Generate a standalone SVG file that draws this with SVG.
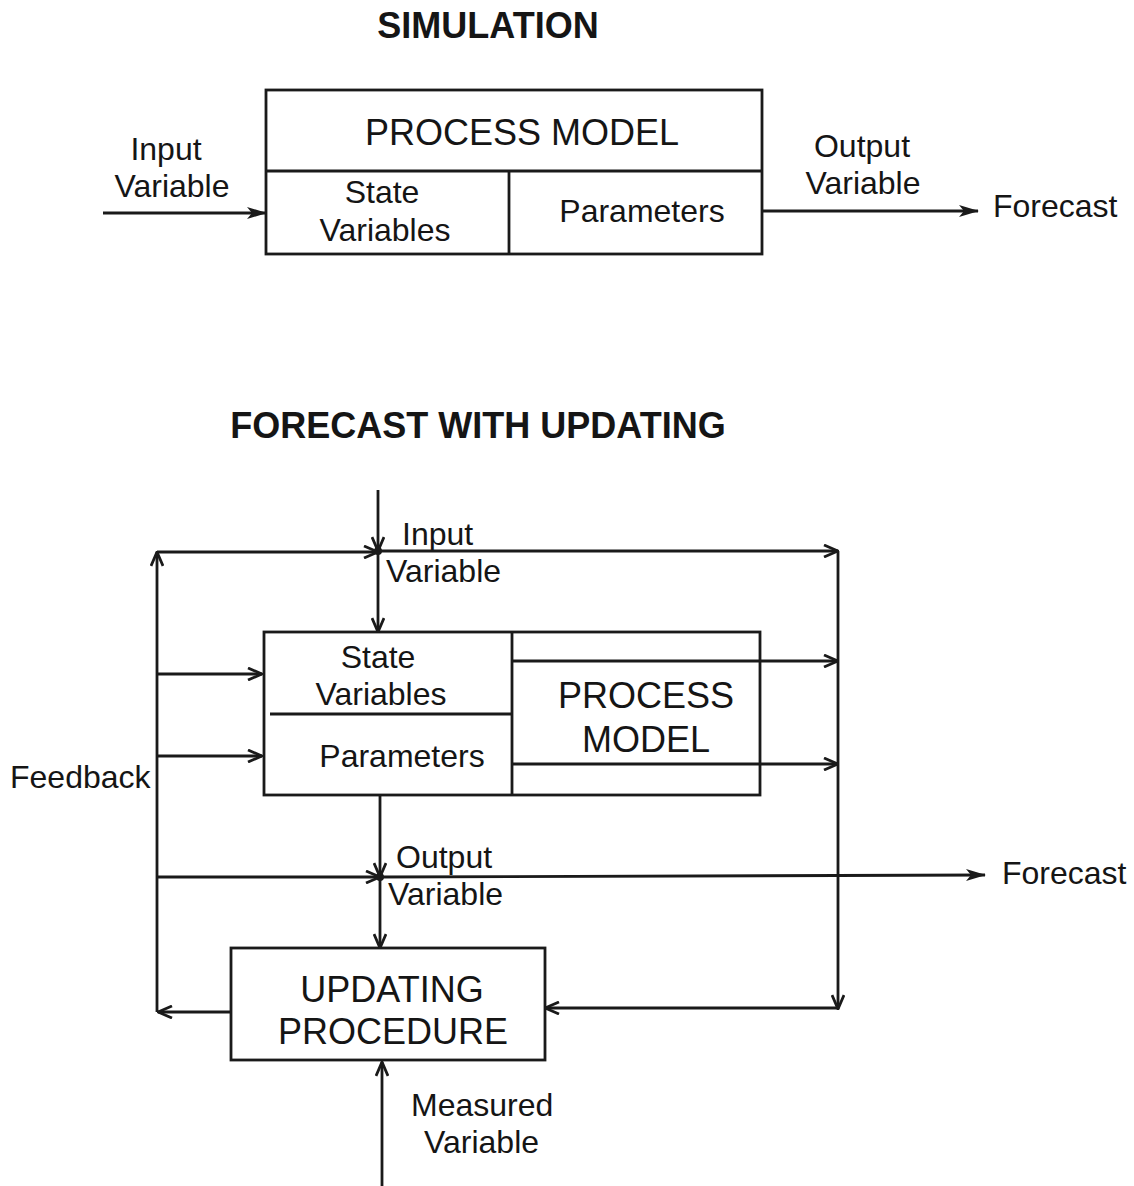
<svg xmlns="http://www.w3.org/2000/svg" width="1134" height="1186" viewBox="0 0 1134 1186">
<style>
text{font-family:"Liberation Sans",Arial,Helvetica,sans-serif;fill:#151515}
.h{font-size:36px;font-weight:bold}
.b{font-size:36px}
.l{font-size:32px}
.box{fill:none;stroke:#1a1a1a;stroke-width:2.8}
.ln{fill:none;stroke:#1a1a1a;stroke-width:2.8}
.c line,.c path{fill:none;stroke:#1a1a1a;stroke-width:2.8}
</style>
<defs>
<marker id="arr" viewBox="0 0 16 14" refX="15" refY="7" markerWidth="16" markerHeight="14" markerUnits="userSpaceOnUse" orient="auto">
<path d="M1,1 L15,7 L1,13" fill="none" stroke="#1a1a1a" stroke-width="2.8"/>
</marker>
<marker id="arrf" viewBox="0 0 20 14" refX="19" refY="7" markerWidth="20" markerHeight="14" markerUnits="userSpaceOnUse" orient="auto">
<path d="M0,1 L20,7 L0,13 L5,7 z" fill="#1a1a1a"/>
</marker>
</defs>
<rect width="1134" height="1186" fill="#fff"/>

<!-- Top diagram -->
<text class="h" x="488" y="38" text-anchor="middle">SIMULATION</text>
<g id="sim-process-model">
<rect class="box" x="266" y="90" width="496" height="164"/>
<line class="ln" x1="266" y1="171" x2="762" y2="171"/>
<line class="ln" x1="509" y1="171" x2="509" y2="254"/>
<text class="b" x="522" y="145" text-anchor="middle">PROCESS MODEL</text>
<text class="l" x="382" y="203" text-anchor="middle">State</text>
<text class="l" x="385" y="241" text-anchor="middle">Variables</text>
<text class="l" x="642" y="222" text-anchor="middle">Parameters</text>
</g>
<g id="sim-labels">
<text class="l" x="166" y="160" text-anchor="middle">Input</text>
<text class="l" x="172" y="197" text-anchor="middle">Variable</text>
<text class="l" x="862" y="157" text-anchor="middle">Output</text>
<text class="l" x="863" y="194" text-anchor="middle">Variable</text>
<text class="l" x="993" y="217">Forecast</text>
</g>
<g id="sim-connectors" class="c">
<line x1="103" y1="213" x2="266" y2="213" marker-end="url(#arrf)"/>
<line x1="762" y1="211" x2="978" y2="211" marker-end="url(#arrf)"/>
</g>

<!-- Bottom diagram -->
<text class="h" x="478" y="438" text-anchor="middle">FORECAST WITH UPDATING</text>
<g id="fu-model">
<rect class="box" x="264" y="632" width="496" height="163"/>
<line class="ln" x1="512" y1="632" x2="512" y2="795"/>
<line class="ln" x1="270" y1="714" x2="512" y2="714"/>
<text class="l" x="378" y="668" text-anchor="middle">State</text>
<text class="l" x="381" y="705" text-anchor="middle">Variables</text>
<text class="l" x="402" y="767" text-anchor="middle">Parameters</text>
<text class="b" x="646" y="708" text-anchor="middle">PROCESS</text>
<text class="b" x="646" y="752" text-anchor="middle">MODEL</text>
</g>
<g id="fu-updating">
<rect class="box" x="231" y="948" width="314" height="112"/>
<text class="b" x="392" y="1002" text-anchor="middle">UPDATING</text>
<text class="b" x="393" y="1044" text-anchor="middle">PROCEDURE</text>
</g>
<g id="fu-labels">
<text class="l" x="402" y="545">Input</text>
<text class="l" x="386" y="582">Variable</text>
<text class="l" x="396" y="868">Output</text>
<text class="l" x="388" y="905">Variable</text>
<text class="l" x="1002" y="884">Forecast</text>
<text class="l" x="10" y="788">Feedback</text>
<text class="l" x="411" y="1116">Measured</text>
<text class="l" x="424" y="1153">Variable</text>
</g>
<g id="fu-connectors" class="c">
<!-- input -->
<line x1="378" y1="490" x2="378" y2="551" marker-end="url(#arr)"/>
<line x1="378" y1="551" x2="378" y2="632" marker-end="url(#arr)"/>
<circle cx="378" cy="551" r="4" fill="#1a1a1a"/>
<!-- top horizontal -->
<line x1="157" y1="552" x2="378" y2="552" marker-end="url(#arr)"/>
<line x1="378" y1="551" x2="838" y2="551" marker-end="url(#arr)"/>
<!-- left feedback vertical -->
<line x1="157" y1="1012" x2="157" y2="552" marker-end="url(#arr)"/>
<line x1="157" y1="674" x2="262" y2="674" marker-end="url(#arr)"/>
<line x1="157" y1="756" x2="262" y2="756" marker-end="url(#arr)"/>
<line x1="231" y1="1012" x2="158" y2="1012" marker-end="url(#arr)"/>
<!-- model outputs -->
<line x1="512" y1="661" x2="838" y2="661" marker-end="url(#arr)"/>
<line x1="512" y1="764" x2="838" y2="764" marker-end="url(#arr)"/>
<!-- right vertical -->
<line x1="838" y1="551" x2="838" y2="1009" marker-end="url(#arr)"/>
<line x1="838" y1="1008" x2="545" y2="1008" marker-end="url(#arr)"/>
<!-- output -->
<line x1="380" y1="795" x2="380" y2="877" marker-end="url(#arr)"/>
<line x1="380" y1="877" x2="380" y2="948" marker-end="url(#arr)"/>
<circle cx="380" cy="877" r="4" fill="#1a1a1a"/>
<line x1="157" y1="877" x2="380" y2="877" marker-end="url(#arr)"/>
<line x1="380" y1="877" x2="985" y2="875" marker-end="url(#arrf)"/>
<!-- measured -->
<line x1="382" y1="1186" x2="382" y2="1062" marker-end="url(#arr)"/>
</g>
</svg>
